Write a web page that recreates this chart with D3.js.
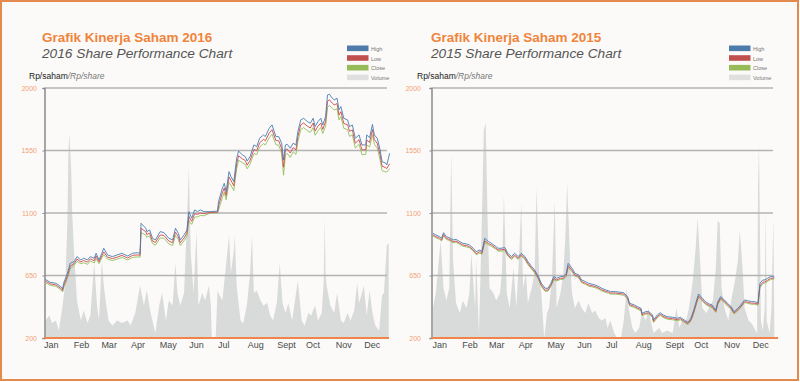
<!DOCTYPE html>
<html><head><meta charset="utf-8">
<script src="https://cdn.jsdelivr.net/npm/d3@7"></script>
<style>
html,body{margin:0;padding:0;background:#fff;}
svg{display:block;font-family:"Liberation Sans",Arial,Helvetica,sans-serif;}
</style></head><body>
<svg id="c" width="800" height="382"></svg>
<script>
// ---------- shared categories / ticks ----------
const months = ["Jan","Feb","Mar","Apr","May","Jun","Jul","Aug","Sept","Oct","Nov","Dec"];
const monthStarts2016 = [0,31,60,91,121,152,182,213,244,274,305,335];
const monthStarts2015 = [0,31,59,90,120,151,181,212,243,273,304,334];
const yTicks = [200,650,1100,1550,2000];
const seriesNames = ["High","Low","Close","Volume"];

// ---------- 2016 (day of year) ----------
const days2016 = [2,7,13,18,20,21,25,28,32,35,39,42,46,49,53,55,58,61,63,67,72,77,82,88,93,98,101,102,107,108,111,114,117,122,126,131,135,138,141,143,147,150,152,155,158,161,164,168,171,175,182,183,187,189,191,194,196,199,202,204,208,211,213,216,220,223,226,230,232,236,239,243,246,249,251,253,255,258,261,264,266,269,272,276,279,282,284,287,290,292,295,297,299,302,304,307,309,311,314,318,320,323,326,330,333,337,338,341,344,346,349,352,354,358,359,362];
const high2016 = [622,601,594,570,553,594,666,738,750,786,762,774,762,786,774,810,762,810,846,798,786,798,810,790,810,814,810,1026,990,966,978,918,906,966,959,918,906,990,954,906,942,978,1110,1062,1122,1110,1122,1110,1110,1110,1114,1182,1278,1314,1254,1398,1362,1326,1494,1546,1518,1506,1474,1506,1590,1578,1638,1662,1650,1710,1734,1650,1650,1602,1482,1590,1594,1566,1602,1590,1686,1770,1782,1758,1746,1782,1722,1758,1782,1734,1794,1950,1955,1926,1914,1926,1842,1866,1782,1770,1722,1734,1638,1662,1590,1590,1662,1642,1738,1662,1638,1554,1470,1458,1446,1530];
const low2016 = [610,590,582,558,542,575,645,718,735,768,748,758,746,770,756,790,748,792,820,782,772,782,795,776,795,798,796,990,965,945,955,898,888,942,938,898,886,962,930,886,920,955,1075,1040,1095,1090,1100,1095,1100,1104,1106,1150,1245,1280,1225,1360,1335,1295,1455,1512,1490,1478,1445,1478,1558,1548,1605,1630,1620,1675,1700,1622,1620,1565,1430,1555,1560,1532,1570,1555,1650,1735,1748,1725,1712,1748,1690,1725,1748,1702,1760,1905,1915,1890,1878,1888,1805,1830,1745,1735,1688,1698,1602,1628,1555,1556,1625,1608,1700,1628,1602,1518,1438,1425,1420,1455];
const close2016 = [598,580,572,548,532,560,628,700,722,752,735,742,730,755,740,772,735,776,800,768,758,768,780,762,780,784,782,960,940,925,935,880,868,920,918,878,866,938,910,866,900,932,1045,1018,1070,1072,1082,1080,1090,1100,1100,1120,1210,1250,1195,1320,1300,1262,1420,1480,1462,1450,1418,1452,1528,1520,1575,1600,1590,1642,1668,1592,1588,1530,1372,1520,1528,1500,1540,1522,1615,1700,1715,1692,1680,1715,1660,1692,1716,1672,1725,1860,1875,1855,1842,1850,1770,1795,1710,1700,1652,1662,1568,1595,1520,1522,1590,1575,1662,1595,1568,1482,1405,1395,1395,1420];
const volDays2016 = [2,6,9,13,16,20,23,25,26,27,29,30,32,35,39,42,46,49,53,56,58,61,63,65,68,72,77,82,88,91,96,101,105,108,112,117,121,124,128,131,135,138,140,143,147,150,152,154,157,160,162,166,169,173,175,176,180,182,183,187,190,194,196,199,200,202,206,209,213,216,218,220,223,227,230,234,237,240,244,247,250,253,256,260,263,266,270,273,277,280,284,287,291,293,294,295,296,300,304,307,311,314,318,321,325,328,330,333,335,338,341,344,347,351,354,356,359,361];
const volume2016 = [7,9,6,7,3,13,23,47,74,82,67,50,34,15,7,11,6,9,30,13,7,31,21,15,7,5,7,6,7,5,10,21,13,19,10,2,13,18,7,15,13,30,18,13,18,47,68,34,18,43,13,18,15,21,13,0,0,19,18,15,26,41,26,35,41,21,7,6,14,26,41,18,19,15,13,14,9,7,14,30,14,10,14,7,15,23,7,5,10,9,13,7,10,23,48,26,21,13,10,18,7,6,10,7,11,22,14,18,21,9,19,10,5,3,17,18,37,38];

// ---------- 2015 (day of year) ----------
const days2015 = [1,4,8,10,12,15,19,22,25,29,32,36,39,43,46,50,52,55,59,62,66,69,72,76,79,83,86,90,93,97,100,104,107,111,114,118,121,124,127,130,134,137,140,142,146,149,153,156,160,163,167,170,174,177,181,184,186,191,197,200,204,206,211,214,218,219,223,226,230,231,235,238,241,245,251,256,259,263,267,270,273,276,278,282,285,289,292,296,298,301,305,308,312,315,319,322,326,329,333,336,340,342,345,347,350,353,355,357];
const high2015 = [954,942,930,918,958,930,918,906,910,894,882,877,870,846,822,834,822,918,894,882,862,846,846,851,810,786,810,786,810,786,750,714,690,642,594,558,558,594,642,630,642,642,666,738,702,666,654,618,606,594,587,582,570,558,546,541,534,534,529,526,498,450,438,426,414,378,390,390,366,330,366,382,366,354,349,342,349,330,313,342,402,474,517,486,462,445,438,402,462,498,474,450,426,390,414,438,474,469,462,462,454,594,618,618,630,642,642,646];
const low2015 = [942,930,918,906,945,918,906,894,898,882,870,865,858,834,808,822,810,900,880,870,850,834,835,838,798,774,797,774,798,774,738,702,678,630,580,544,545,580,628,618,630,630,652,720,688,654,642,606,594,582,576,571,559,547,536,531,524,524,519,516,488,440,428,416,404,368,379,380,356,320,354,371,356,344,339,332,339,320,304,330,388,458,502,474,451,435,428,392,448,486,463,439,415,380,403,427,462,458,451,451,444,575,602,604,616,630,630,634];
const close2015 = [935,922,910,898,935,910,898,886,890,874,862,856,850,826,800,812,802,888,870,860,842,826,826,828,790,766,788,766,790,765,728,694,670,622,570,536,538,572,620,610,622,622,644,708,678,646,634,598,586,574,568,563,551,539,528,523,516,516,511,508,480,432,420,408,396,360,372,372,348,312,346,364,348,336,331,324,331,312,296,322,378,448,494,466,443,426,420,384,440,478,455,430,407,372,396,419,455,450,443,443,436,562,592,595,608,620,622,626];
const volDays2015 = [1,4,9,12,15,18,20,22,25,29,32,36,39,41,45,46,49,52,54,56,58,60,64,67,71,73,75,78,81,85,88,91,93,95,98,100,104,107,109,112,114,117,120,122,125,128,130,134,137,139,141,144,146,149,153,156,160,163,167,170,174,177,181,183,186,190,193,197,200,203,205,209,212,216,219,223,226,228,231,237,240,245,251,255,258,261,265,268,272,275,277,280,282,286,289,293,296,298,300,302,305,309,312,316,319,321,324,326,330,333,336,339,340,341,343,345,347,348,349,352,354,356,357];
const volume2015 = [12,18,39,20,15,20,74,31,14,10,15,12,18,34,12,32,2,47,83,86,47,20,18,15,18,27,57,18,12,28,12,34,54,20,26,14,20,26,60,23,18,0,10,12,23,55,12,18,26,40,62,31,18,12,15,12,10,14,10,11,8,7,8,4,7,2,0,0,7,20,12,4,2,4,10,7,12,7,2,4,2,3,2,12,4,7,7,12,23,36,48,28,12,10,12,15,28,47,46,20,12,7,15,23,31,43,27,12,7,6,4,2,60,78,7,3,12,52,7,2,12,48,4];

// ---------- styling ----------
const colors = {High:"#4a7db3", Low:"#d2474a", Close:"#93bf5c", Volume:"#d9dada"};
const legendColors = {High:"#4d7caa", Low:"#c0504d", Close:"#98bb5a", Volume:"#e0e0e0"};
const orange = "#f0844a";

const svg = d3.select("#c");
svg.append("rect").attr("x",0).attr("y",0).attr("width",800).attr("height",382).attr("fill","#fff");
svg.append("rect").attr("x",1).attr("y",1).attr("width",797).attr("height",379)
  .attr("fill","#fbfaf8").attr("stroke","#e58a4e").attr("stroke-width",2);

const charts = [
  {title:"Grafik Kinerja Saham 2016", sub:"2016 Share Performance Chart",
   days:days2016, high:high2016, low:low2016, close:close2016, vdays:volDays2016, vol:volume2016,
   mstarts:monthStarts2016, dmax:366,
   xr:[43.5,393.5], axisX:44.5, gridEnd:387, orangeEnd:389, titleX:42, rpX:29, legX:347, tickX:37},
  {title:"Grafik Kinerja Saham 2015", sub:"2015 Share Performance Chart",
   days:days2015, high:high2015, low:low2015, close:close2015, vdays:volDays2015, vol:volume2015,
   mstarts:monthStarts2015, dmax:365,
   xr:[432,782], axisX:431.5, gridEnd:773, orangeEnd:778, titleX:431, rpX:417, legX:729, tickX:421}
];

const y = d3.scaleLinear().domain([200,2000]).range([338,88]);
const yv = d3.scaleLinear().domain([0,100]).range([338,88]);

charts.forEach(c => {
  const g = svg.append("g");
  const x = d3.scaleLinear().domain([0,c.dmax]).range(c.xr);

  // volume
  const vdata = c.vdays.map((d,i)=>({d, v:c.vol[i]}));
  g.append("path").datum(vdata)
    .attr("d", d3.area().x(p=>x(p.d)).y0(yv(0)).y1(p=>yv(p.v)))
    .attr("fill", colors.Volume);

  // grid lines
  g.selectAll(".grid").data(yTicks.filter(t=>t>200)).join("line")
    .attr("x1", c.axisX).attr("x2", c.gridEnd)
    .attr("y1", d=>y(d)).attr("y2", d=>y(d))
    .attr("stroke","#b3b3b3").attr("stroke-width",1.3);

  // y axis
  const ya = g.append("g").attr("transform",`translate(${c.axisX},0)`)
    .call(d3.axisLeft(y).tickValues(yTicks).tickFormat(d3.format("d")).tickSize(2).tickPadding(c.axisX - c.tickX - 2));
  ya.select(".domain").attr("stroke","#8a8a8a").attr("stroke-width",1.5);
  ya.selectAll(".tick line").attr("stroke","#8a8a8a");
  ya.selectAll("text").attr("fill","#f3a277").attr("font-size",7).attr("font-family","Liberation Sans, Arial, sans-serif");

  // price lines
  const pts = arr => c.days.map((d,i)=>({d, v:arr[i]}));
  const line = d3.line().x(p=>x(p.d)).y(p=>y(p.v));
  [["Close",c.close],["Low",c.low],["High",c.high]].forEach(([n,arr])=>{
    g.append("path").datum(pts(arr)).attr("d",line)
      .attr("fill","none").attr("stroke",colors[n]).attr("stroke-width",0.9)
      .attr("stroke-linejoin","round");
  });

  // orange base axis
  g.append("line").attr("x1",c.axisX).attr("x2",c.orangeEnd)
    .attr("y1",y(200)).attr("y2",y(200)).attr("stroke",orange).attr("stroke-width",2.2);

  // x axis labels
  const xa = g.append("g").attr("transform",`translate(0,${y(200)})`)
    .call(d3.axisBottom(x).tickValues(c.mstarts).tickFormat((d,i)=>months[i]).tickSize(0));
  xa.select(".domain").remove();
  xa.selectAll("text").attr("text-anchor","start").attr("y",10).attr("dy",0)
    .attr("fill","#4a4a4a").attr("font-size",9).attr("font-family","Liberation Sans, Arial, sans-serif");

  // titles
  g.append("text").attr("x",c.titleX).attr("y",42).text(c.title)
    .attr("fill","#f0843c").attr("font-weight","bold").attr("font-size",13.5);
  g.append("text").attr("x",c.titleX).attr("y",57.5).text(c.sub)
    .attr("fill","#555").attr("font-style","italic").attr("font-size",13.7);

  const rp = g.append("text").attr("x",c.rpX).attr("y",79).attr("font-size",8.5);
  rp.append("tspan").text("Rp/saham").attr("fill","#222");
  rp.append("tspan").text("/Rp/share").attr("fill","#777").attr("font-style","italic");

  // legend
  const lg = g.append("g");
  seriesNames.forEach((n,i)=>{
    lg.append("rect").attr("x",c.legX).attr("y",45.5+i*9.7).attr("width",21.5).attr("height",5.6)
      .attr("fill",legendColors[n]);
    lg.append("text").attr("x",c.legX+24).attr("y",50.8+i*9.7).text(n)
      .attr("fill","#777").attr("font-size",5.5);
  });
});
</script>
</body></html>
